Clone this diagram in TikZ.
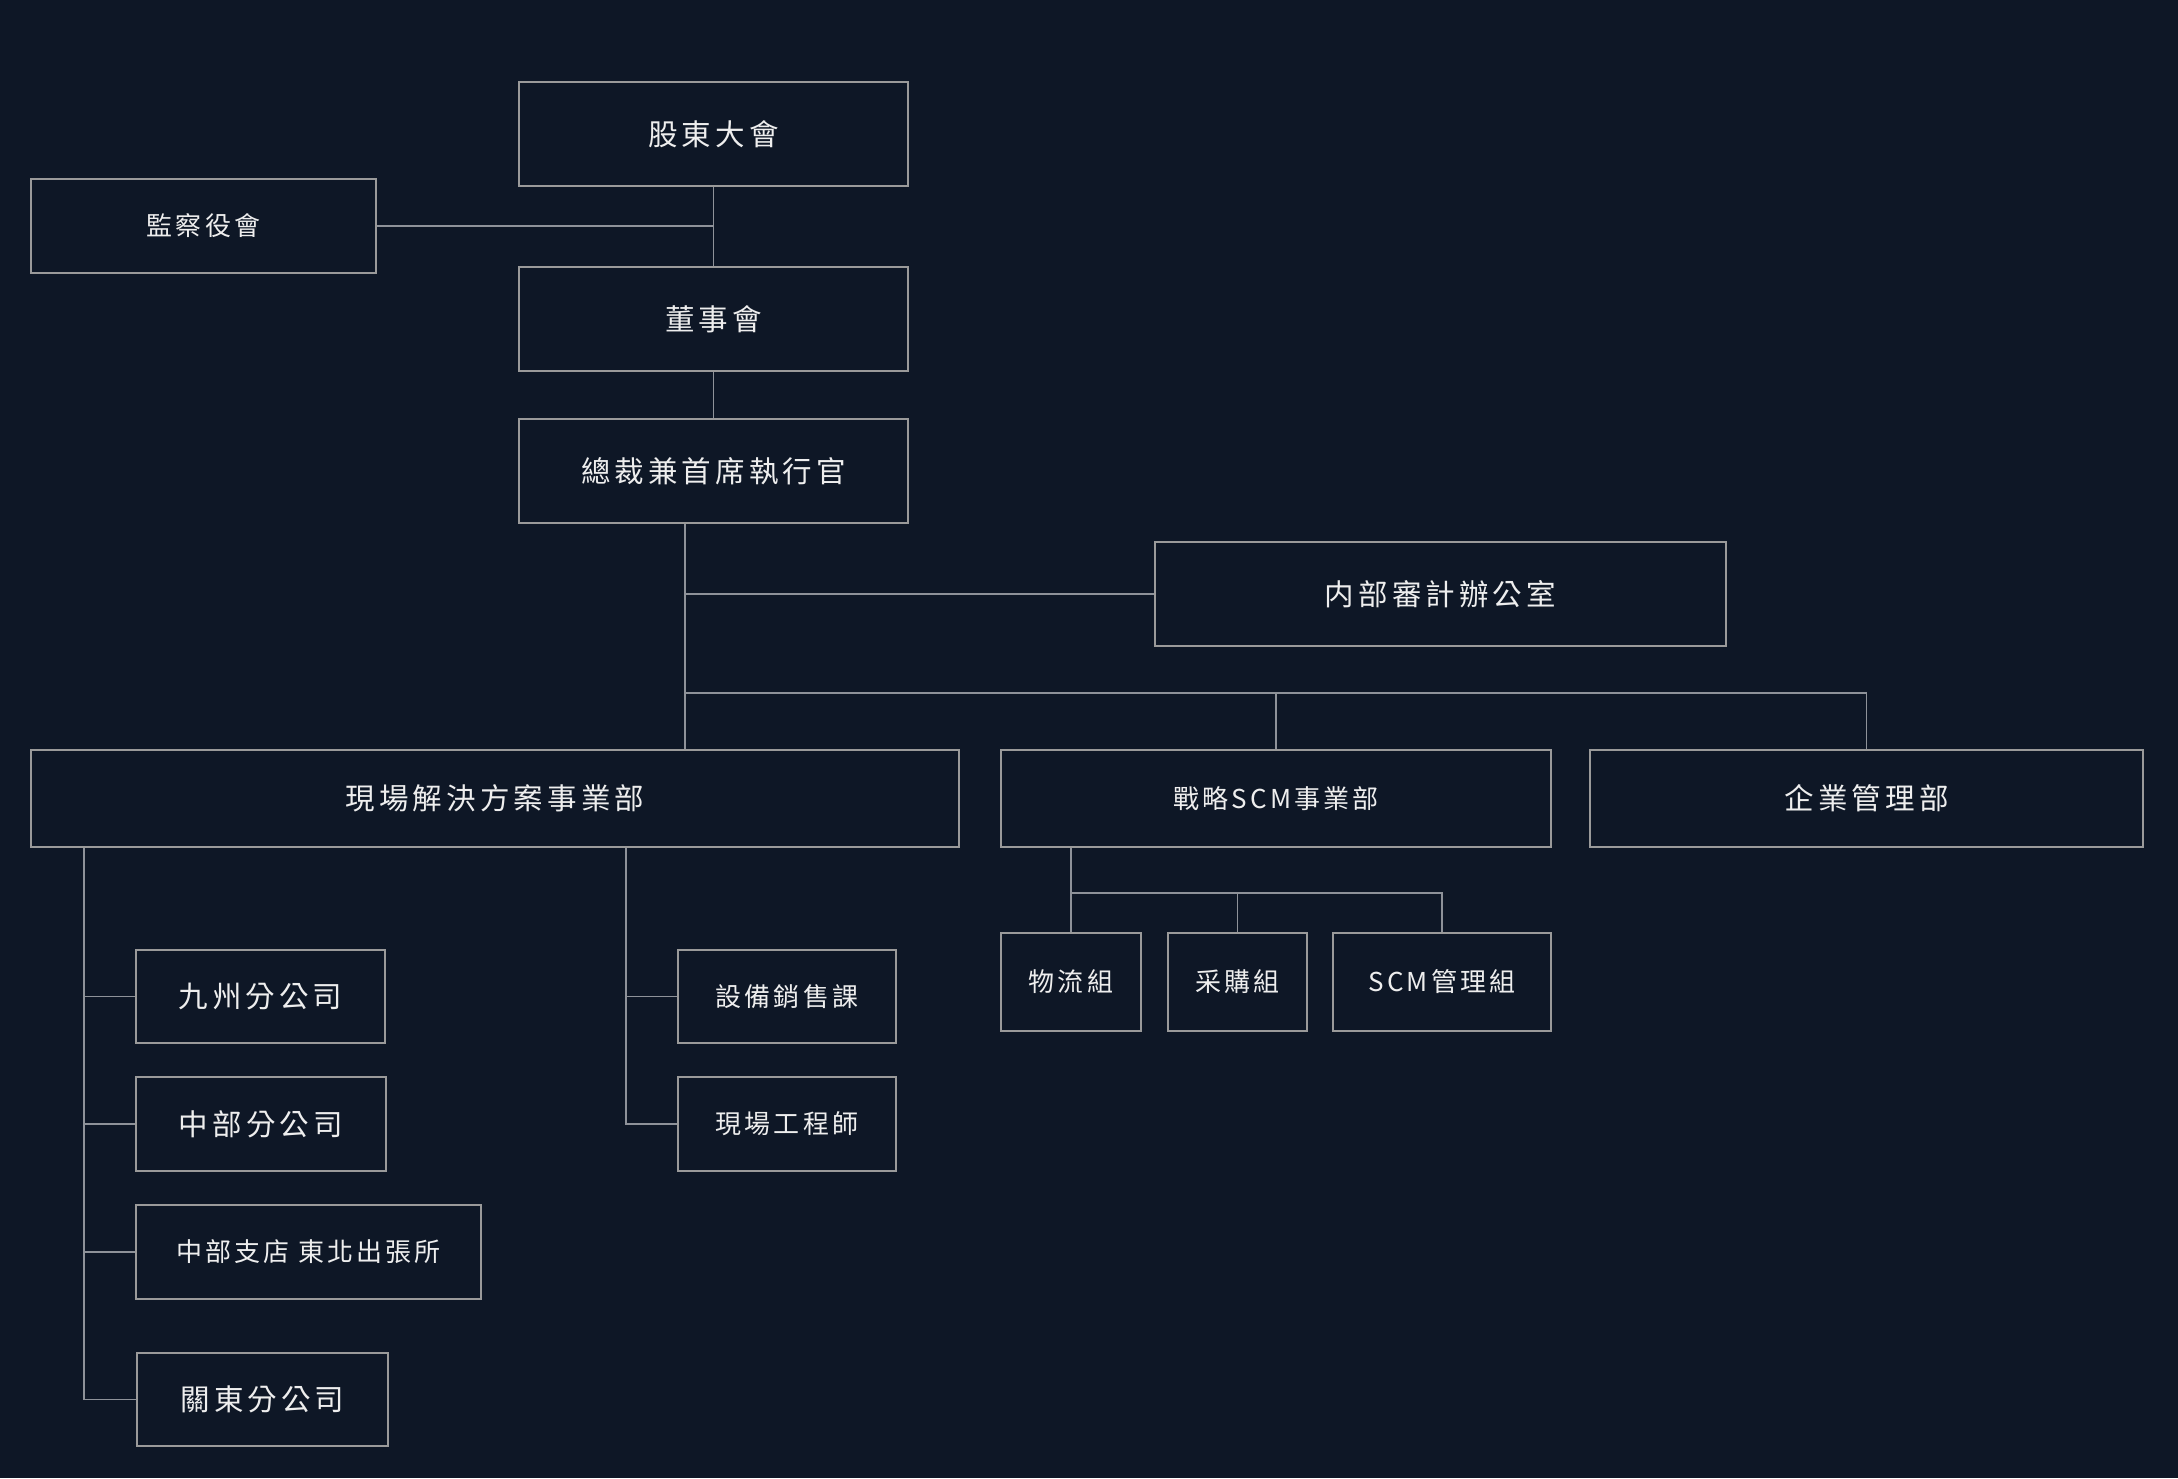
\documentclass[tikz,border=0pt]{standalone}
\usepackage{fontspec}
\newfontfamily\cjkbigf[LetterSpace=14]{Noto Sans CJK TC}
\newfontfamily\cjksmallf[LetterSpace=12]{Noto Sans CJK TC}
\definecolor{bgc}{HTML}{0E1726}
\definecolor{boxc}{HTML}{9A9A9A}
\definecolor{connc}{HTML}{8E9299}
\definecolor{txtc}{HTML}{EEEEEE}
\tikzset{
  orgbox/.style={draw=boxc, line width=1.8pt, fill=bgc, text=txtc, inner sep=0pt, align=center},
  bigtxt/.style={font=\fontsize{29.5}{34}\selectfont\cjkbigf},
  smalltxt/.style={font=\fontsize{26}{30}\selectfont\cjksmallf},
  conn/.style={draw=connc, line width=1.8pt}
}
\begin{document}
\begin{tikzpicture}[x=1pt,y=-1pt]
\fill[bgc] (0,0) rectangle (2178,1478);
\useasboundingbox (0,0) rectangle (2178,1478);

\node[orgbox,bigtxt,minimum width=389pt,minimum height=104pt] (sh) at (713.5,134) {股東大會};
\node[orgbox,smalltxt,minimum width=345pt,minimum height=94pt] (kan) at (203.5,226) {監察役會};
\node[orgbox,bigtxt,minimum width=389pt,minimum height=104pt] (board) at (713.5,319) {董事會};
\node[orgbox,bigtxt,minimum width=389pt,minimum height=104pt] (ceo) at (713.5,471) {總裁兼首席執行官};
\node[orgbox,bigtxt,minimum width=571pt,minimum height=104pt] (audit) at (1440.5,594) {内部審計辦公室};
\node[orgbox,bigtxt,minimum width=928pt,minimum height=97pt] (field) at (495,798.5) {現場解決方案事業部};
\node[orgbox,smalltxt,minimum width=550pt,minimum height=97pt] (scm) at (1276,798.5) {戰略SCM事業部};
\node[orgbox,bigtxt,minimum width=553pt,minimum height=97pt] (corp) at (1866.5,798.5) {企業管理部};
\node[orgbox,smalltxt,minimum width=140pt,minimum height=98pt] (logi) at (1071,982) {物流組};
\node[orgbox,smalltxt,minimum width=139pt,minimum height=98pt] (proc) at (1237.5,982) {采購組};
\node[orgbox,smalltxt,minimum width=218pt,minimum height=98pt] (scmm) at (1442,982) {SCM管理組};
\node[orgbox,bigtxt,minimum width=249pt,minimum height=93pt] (kyushu) at (260.5,996.5) {九州分公司};
\node[orgbox,bigtxt,minimum width=250pt,minimum height=94pt] (chubu) at (261,1124) {中部分公司};
\node[orgbox,smalltxt,minimum width=345pt,minimum height=94pt] (chubu2) at (308.5,1252) {中部支店 東北出張所};
\node[orgbox,bigtxt,minimum width=251pt,minimum height=93pt] (kanto) at (262.5,1399.5) {關東分公司};
\node[orgbox,smalltxt,minimum width=218pt,minimum height=93pt] (equip) at (787,996.5) {設備銷售課};
\node[orgbox,smalltxt,minimum width=218pt,minimum height=94pt] (eng) at (787,1124) {現場工程師};

% top chain
\draw[conn] (sh.south) -- (board.north);
\draw[conn] (kan.east) -- (kan.east -| sh.south);
\draw[conn] (board.south) -- (ceo.north);

% CEO trunk
\coordinate (ct) at ([xshift=-28.5pt]ceo.south);
\coordinate (bus) at (685,693);
\draw[conn] (ct) -- (ct |- field.north);
\draw[conn] (ct |- audit.west) -- (audit.west);
\draw[conn] (bus) -- (bus -| corp.north) -- (corp.north);
\draw[conn] (bus -| scm.north) -- (scm.north);

% field children
\coordinate (lt) at ([xshift=53.5pt]field.south west);
\draw[conn] (lt) -- (lt |- kanto.west) -- (kanto.west);
\draw[conn] (lt |- kyushu.west) -- (kyushu.west);
\draw[conn] (lt |- chubu.west) -- (chubu.west);
\draw[conn] (lt |- chubu2.west) -- (chubu2.west);
\coordinate (rt) at ([xshift=595.5pt]field.south west);
\draw[conn] (rt) -- (rt |- eng.west) -- (eng.west);
\draw[conn] (rt |- equip.west) -- (equip.west);

% scm children
\coordinate (sb) at (1071,893);
\draw[conn] (scm.south -| logi.north) -- (logi.north);
\draw[conn] (sb) -- (sb -| scmm.north) -- (scmm.north);
\draw[conn] (sb -| proc.north) -- (proc.north);
\end{tikzpicture}
\end{document}
